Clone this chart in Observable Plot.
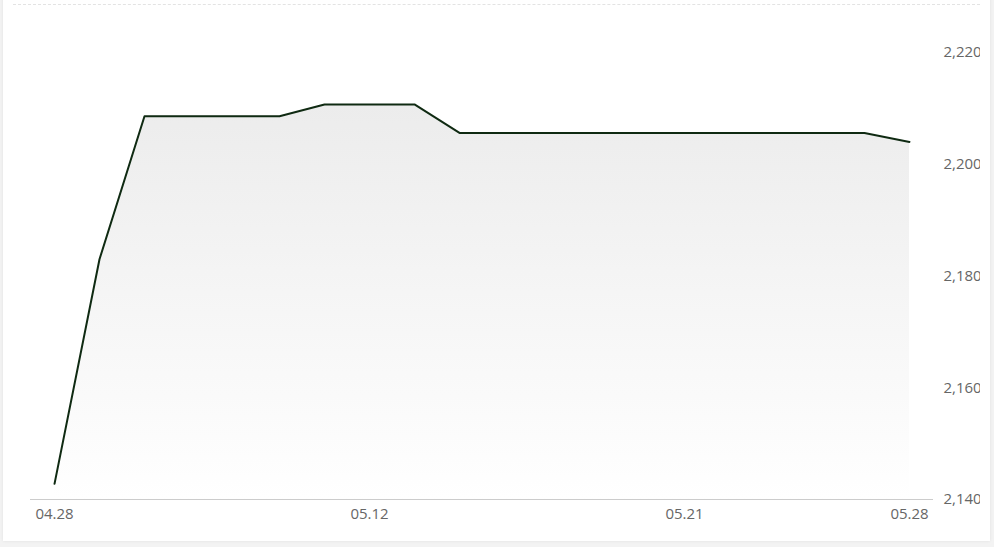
<!DOCTYPE html>
<html>
<head>
<meta charset="utf-8">
<script src="https://cdn.jsdelivr.net/npm/d3@7"></script>
<script src="https://cdn.jsdelivr.net/npm/@observablehq/plot@0.6"></script>
<style>
  html, body { margin: 0; padding: 0; background: #f3f3f3; width: 994px; height: 547px; overflow: hidden; }
  #card { position: absolute; left: 3px; top: -4px; width: 987px; height: 545px; background: #fff; box-shadow: 0 0 3px rgba(0,0,0,0.08); }
  #dash { position: absolute; left: 13px; top: 4px; width: 967px; border-top: 1px dashed #e3e3e3; }
  #chart { position: absolute; left: 0; top: 0; }
</style>
</head>
<body>
<div id="card"></div>
<div id="dash"></div>
<div id="chart"></div>
<script>
const dates = ["04.28","04.29","04.30","05.06","05.07","05.08","05.09","05.12","05.13","05.14",
               "05.15","05.16","05.19","05.20","05.21","05.22","05.23","05.26","05.27","05.28"];
const values = [2142.8, 2183, 2208.6, 2208.6, 2208.6, 2208.6, 2210.7, 2210.7, 2210.7, 2205.6,
                2205.6, 2205.6, 2205.6, 2205.6, 2205.6, 2205.6, 2205.6, 2205.6, 2205.6, 2204];
const xTicks = ["04.28","05.12","05.21","05.28"];
const yTicks = [2140, 2160, 2180, 2200, 2220];
const yDomain = [2140, 2220];

const data = dates.map((d, i) => ({date: d, value: values[i]}));

const chart = Plot.plot({
  width: 980,
  height: 547,
  marginLeft: 30,
  marginRight: 47,
  marginTop: 52,
  marginBottom: 48,
  style: {fontFamily: "'Open Sans', sans-serif", fontSize: "15px", color: "#666", background: "transparent", overflow: "hidden"},
  x: {type: "point", domain: dates, padding: 0.5},
  y: {domain: yDomain},
  marks: [
    Plot.areaY(data, {x: "date", y1: yDomain[0], y2: "value", fill: "url(#areaGrad)"}),
    Plot.ruleY([yDomain[0]], {stroke: "#cccccc", strokeWidth: 1}),
    Plot.lineY(data, {x: "date", y: "value", stroke: "#0f2a12", strokeWidth: 2, strokeLinejoin: "round"}),
    Plot.axisX({ticks: xTicks, tickSize: 0, tickPadding: 9, label: null, fill: "#666", fontSize: 15}),
    Plot.axisY({anchor: "right", ticks: yTicks, tickFormat: d3.format(","), tickSize: 0, tickPadding: 10, label: null, textAnchor: "start", fill: "#666", fontSize: 15})
  ]
});

const svg = d3.select(chart);
const defs = svg.insert("defs", ":first-child");
const g = defs.append("linearGradient").attr("id", "areaGrad")
  .attr("x1", 0).attr("y1", 0).attr("x2", 0).attr("y2", 1);
g.append("stop").attr("offset", "0%").attr("stop-color", "#ececec");
g.append("stop").attr("offset", "100%").attr("stop-color", "#ffffff");
chart.style.overflow = "hidden";
document.getElementById("chart").appendChild(chart);
</script>
</body>
</html>
